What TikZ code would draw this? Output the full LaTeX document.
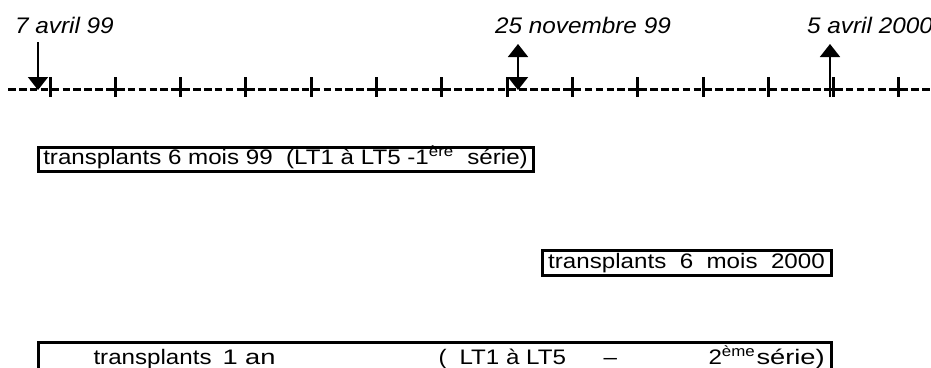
\documentclass[tikz,border=0pt]{standalone}
\usepackage{fontspec}
\setmainfont{Liberation Sans}
\usetikzlibrary{arrows.meta}
\newcommand{\placeat}[2]{\makebox[0pt][l]{\hspace*{#1}#2}}
\newcommand{\bx}[1]{\scalebox{1.15}[1]{#1}}
\newcommand{\bxw}[1]{\scalebox{1.3}[1]{#1}}
\newcommand{\lb}[1]{\scalebox{1.08}[1]{\itshape #1}}
\tikzset{
  boxtext/.style={draw, line width=3pt, inner sep=0pt, font=\fontsize{21}{23}\selectfont},
  datelabel/.style={anchor=base west, inner sep=0pt, font=\fontsize{22.5}{24}\selectfont},
  ticks/.style={line width=3pt},
  timeline/.style={line width=3pt, dash pattern=on 7.6pt off 3.28pt},
  marker/.style={line width=1.8pt, -{Triangle[width=20pt,length=13pt]}},
  dmarker/.style={line width=1.8pt, {Triangle[width=20pt,length=13pt]}-{Triangle[width=20pt,length=13pt]}},
}
\begin{document}
\begin{tikzpicture}[x=1pt,y=-1pt]
\useasboundingbox (0,0) rectangle (931,367);
% timeline
\coordinate (tl0) at (8.12,89);
\coordinate (tl1) at (931,89);
\draw[timeline] (tl0) -- (tl1);
\foreach \i in {0,...,13}{
  \coordinate (tk\i a) at ({50+65.3*\i},77);
  \coordinate (tk\i b) at ({50+65.3*\i},97);
  \draw[ticks] (tk\i a) -- (tk\i b);
}
% date labels
\node[datelabel] (d1) at (15,33) {\lb{7 avril 99}};
\node[datelabel] (d2) at (495,33) {\lb{25 novembre 99}};
\node[datelabel] (d3) at (807,33) {\lb{5 avril 2000}};
% arrows
\coordinate (a1s) at (38,42);  \coordinate (a1e) at (38,90);
\coordinate (a2s) at (518,44); \coordinate (a2e) at (518,90);
\coordinate (a3s) at (830,97); \coordinate (a3e) at (830,44);
\draw[marker] (a1s) -- (a1e);
\draw[dmarker] (a2s) -- (a2e);
\draw[marker] (a3s) -- (a3e);
% boxes
\node[boxtext, minimum width=495pt, text height=17pt, text depth=7pt, anchor=base] (b1) at (285.5,164)
  {\bx{transplants 6 mois 99\ \ (LT1 à LT5 -1\textsuperscript{ère}\ \ série)}};
\node[boxtext, minimum width=289pt, text height=18pt, text depth=7pt, anchor=base] (b2) at (686.5,268)
  {\bx{transplants\ \ 6\ \ mois\ \ 2000}};
\node[boxtext, minimum width=793pt, text height=22pt, text depth=14pt, anchor=base west] (b3) at (37,364)
  {\makebox[793pt][l]{\placeat{55pt}{\bx{transplants}}\placeat{184pt}{\bxw{1 an}}\placeat{400pt}{\bx{(}}\placeat{421pt}{\bx{LT1 à LT5}}\placeat{565pt}{\bx{–}}\placeat{670pt}{\bx{2\textsuperscript{ème}}}\placeat{718pt}{\bxw{série)}}}};
\end{tikzpicture}
\end{document}
